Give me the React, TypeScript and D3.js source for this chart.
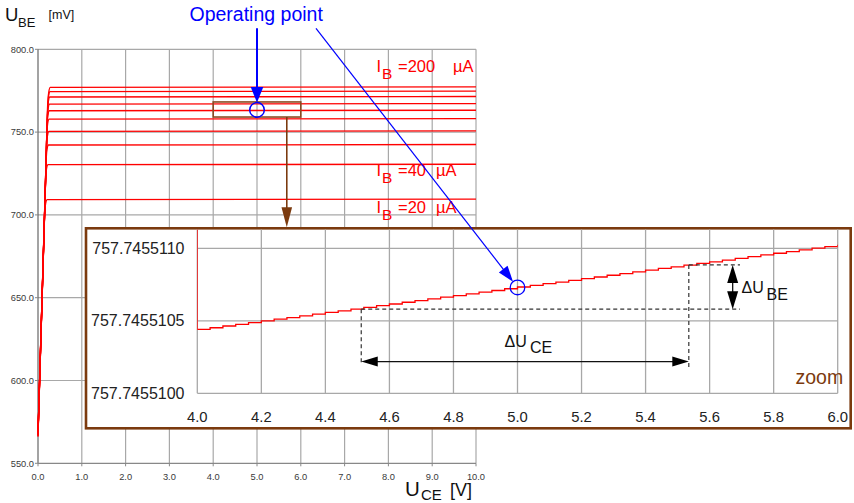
import React from "react";
import * as d3 from "d3";

// Output characteristics U_BE(U_CE) for base currents 20 µA ... 200 µA
const baseCurrentsUA = [20, 40, 60, 80, 100, 120, 140, 160, 180, 200];

// [U_CE in V, U_BE in mV] for each base current, same order as baseCurrentsUA
const outputCurves: [number, number][][] = [
  [[0, 566], [0.12, 673], [0.15, 699], [0.175, 707], [0.21, 709.2], [10, 709.5]],
  [[0, 566.5], [0.14, 691], [0.17, 718], [0.195, 728], [0.23, 730.3], [10, 730.6]],
  [[0, 567], [0.15, 700], [0.18, 729], [0.205, 739.5], [0.24, 742.2], [10, 742.5]],
  [[0, 567], [0.16, 708], [0.19, 737], [0.215, 747.5], [0.25, 750.4], [10, 750.7]],
  [[0, 567.5], [0.165, 714], [0.195, 744], [0.22, 755], [0.255, 757.8], [10, 758.1]],
  [[0, 567.5], [0.17, 719], [0.2, 749], [0.225, 760], [0.26, 762.9], [10, 763.2]],
  [[0, 568], [0.175, 722], [0.205, 753], [0.23, 764], [0.265, 766.9], [10, 767.2]],
  [[0, 568], [0.18, 727], [0.21, 757], [0.235, 768.3], [0.27, 771.2], [10, 771.5]],
  [[0, 568], [0.18, 729], [0.215, 760], [0.24, 771.6], [0.275, 774.5], [10, 774.8]],
  [[0, 568], [0.185, 732], [0.215, 763], [0.245, 774], [0.28, 777], [10, 777.3]],
];

const mainXTicks = [0, 1, 2, 3, 4, 5, 6, 7, 8, 9, 10];
const mainYTicks = [550, 600, 650, 700, 750, 800];

// Operating point and the window that is magnified
const operatingPoint = { uce: 5.0, ube: 763.4 };
const zoomWindow = { uce: [4.0, 6.0], ube: [759.1, 768.2] };

// Magnified curve: quantised U_BE steps between 4.0 V and 6.0 V
const zoomUce = [
  4.0, 4.04, 4.08, 4.12, 4.16, 4.2, 4.24, 4.28, 4.32, 4.36,
  4.4, 4.44, 4.48, 4.52, 4.56, 4.6, 4.64, 4.68, 4.72, 4.76,
  4.8, 4.84, 4.88, 4.92, 4.96, 5.0, 5.04, 5.08, 5.12, 5.16,
  5.2, 5.24, 5.28, 5.32, 5.36, 5.4, 5.44, 5.48, 5.52, 5.56,
  5.6, 5.64, 5.68, 5.72, 5.76, 5.8, 5.84, 5.88, 5.92, 5.96, 6.0,
];
const zoomUbe = [
  757.745510441, 757.745510452, 757.745510464, 757.745510476, 757.745510487,
  757.745510499, 757.745510511, 757.745510522, 757.745510534, 757.745510546,
  757.745510558, 757.745510569, 757.745510581, 757.745510593, 757.745510604,
  757.745510616, 757.745510628, 757.745510639, 757.745510651, 757.745510663,
  757.745510674, 757.745510686, 757.745510698, 757.745510709, 757.745510721,
  757.745510733, 757.745510744, 757.745510756, 757.745510767, 757.745510779,
  757.745510791, 757.745510802, 757.745510814, 757.745510826, 757.745510837,
  757.745510849, 757.745510861, 757.745510872, 757.745510884, 757.745510896,
  757.745510907, 757.745510919, 757.745510931, 757.745510942, 757.745510954,
  757.745510966, 757.745510977, 757.745510989, 757.745511001, 757.745511012,
  757.745511024,
];
// the trace enters the magnified window from above at 4.0 V
const zoomEntryUbe = 757.7455114;

const zoomXTicks = [4.0, 4.2, 4.4, 4.6, 4.8, 5.0, 5.2, 5.4, 5.6, 5.8, 6.0];
const zoomYTicks = [757.74551, 757.7455105, 757.745511];
const zoomOperatingPoint = { uce: 5.0, ube: 757.74551073 };

// Construction for the differential quantities
const deltaUce = [4.512, 5.535];
const deltaUbe = [757.74551058, 757.745510885];
const deltaUceArrowUbe = 757.745510219;
const deltaUbeArrowUce = 5.672;
const dashRightUce = 5.695;
const dashLeftBottomUbe = 757.745510209;
const dashRightBottomUbe = 757.745510168;

const FONT = "'Liberation Sans', Arial, Helvetica, sans-serif";
const RED = "#ff0000";
const BLUE = "#0000ff";
const BROWN = "#7b3a0e";
const GRID = "#a8a8a8";

function arrowHead(tx: number, ty: number, fx: number, fy: number, len: number, half: number) {
  const dx = tx - fx;
  const dy = ty - fy;
  const d = Math.hypot(dx, dy);
  const ux = dx / d;
  const uy = dy / d;
  const bx = tx - ux * len;
  const by = ty - uy * len;
  return `M${tx},${ty}L${bx - uy * half},${by + ux * half}L${bx + uy * half},${by - ux * half}Z`;
}

export default function App() {
  const x = d3.scaleLinear().domain([0, 10]).range([38, 476]);
  const y = d3.scaleLinear().domain([550, 800]).range([463.3, 49.3]);

  const zx = d3.scaleLinear().domain([4, 6]).range([197.3, 837.7]);
  const zy = d3.scaleLinear().domain([757.74551, 757.745511]).range([393.3, 248.3]);

  const curveLine = d3
    .line<[number, number]>()
    .x((d) => x(d[0]))
    .y((d) => y(d[1]))
    .curve(d3.curveMonotoneX);

  const zoomPoints: [number, number][] = [[4.0, zoomEntryUbe], ...zoomUce.map((u, i) => [u, zoomUbe[i]] as [number, number])];
  const stairLine = d3
    .line<[number, number]>()
    .x((d) => zx(d[0]))
    .y((d) => zy(d[1]))
    .curve(d3.curveStepAfter);

  const fmt1 = d3.format(".1f");

  // inset frame
  const inset = { x0: 86, y0: 228.3, x1: 850.7, y1: 428.3 };

  // operating point marker in the main chart
  const opX = x(operatingPoint.uce);
  const opY = y(operatingPoint.ube);
  const opR = 7.3;

  // magnified operating point
  const zopX = zx(zoomOperatingPoint.uce);
  const zopY = zy(zoomOperatingPoint.ube);

  // pointer from label to magnified operating point
  const pStart = { x: 316, y: 28.3 };
  const pdx = zopX - pStart.x;
  const pdy = zopY - pStart.y;
  const pd = Math.hypot(pdx, pdy);
  const pTip = { x: zopX - (pdx / pd) * opR, y: zopY - (pdy / pd) * opR };

  // brown arrow from zoom window down to the inset
  const bx = x(5.68);
  const bTop = y(zoomWindow.ube[0]);

  const dLx = zx(deltaUce[0]);
  const dRx = zx(deltaUce[1]);
  const dTopY = zy(deltaUbe[1]);
  const dBotY = zy(deltaUbe[0]);
  const arrowY = zy(deltaUceArrowUbe);
  const arrowX = zx(deltaUbeArrowUce);

  return (
    <svg
      width={854}
      height={503}
      style={{ position: "absolute", left: 0, top: 0, background: "#fff" }}
      fontFamily={FONT}
    >
      <defs>
        <clipPath id="zoomClip">
          <rect x={zx(4)} y={inset.y0 + 1.2} width={zx(6) - zx(4)} height={zy(757.74551) - inset.y0 - 1.2} />
        </clipPath>
      </defs>

      {/* main grid */}
      <g>
        {mainXTicks.slice(1).map((t) => (
          <line key={"gx" + t} x1={x(t)} x2={x(t)} y1={y(800)} y2={y(550)} stroke={GRID} strokeWidth={1.2} />
        ))}
        {mainYTicks.slice(1).map((t) => (
          <line key={"gy" + t} x1={x(0)} x2={x(10)} y1={y(t)} y2={y(t)} stroke={GRID} strokeWidth={1.2} />
        ))}
        <line x1={x(0)} x2={x(0)} y1={y(800)} y2={y(550)} stroke="#666" strokeWidth={1.2} />
        <line x1={x(0)} x2={x(10)} y1={y(550)} y2={y(550)} stroke="#888" strokeWidth={1.2} />
        {mainYTicks.map((t) => (
          <g key={"ty" + t}>
            <line x1={x(0) - 3} x2={x(0)} y1={y(t)} y2={y(t)} stroke="#888" />
            <text x={34} y={y(t) + 3.3} textAnchor="end" fontSize={9.3} fill="#3a3a3a">
              {fmt1(t)}
            </text>
          </g>
        ))}
        {mainXTicks.map((t) => (
          <g key={"tx" + t}>
            <line x1={x(t)} x2={x(t)} y1={y(550)} y2={y(550) + 3} stroke="#888" />
            <text x={x(t)} y={480} textAnchor="middle" fontSize={9.3} fill="#3a3a3a">
              {fmt1(t)}
            </text>
          </g>
        ))}
      </g>

      {/* characteristic curves */}
      <g fill="none" stroke={RED} strokeWidth={1.3}>
        {outputCurves.map((c, i) => (
          <path key={"c" + baseCurrentsUA[i]} d={curveLine(c) || ""} />
        ))}
      </g>

      {/* zoom window and operating point */}
      <rect
        x={x(zoomWindow.uce[0])}
        y={y(zoomWindow.ube[1])}
        width={x(zoomWindow.uce[1]) - x(zoomWindow.uce[0])}
        height={y(zoomWindow.ube[0]) - y(zoomWindow.ube[1])}
        fill="none"
        stroke="#8a4a22"
        strokeWidth={1.6}
      />
      <circle cx={opX} cy={opY} r={opR} fill="none" stroke={BLUE} strokeWidth={1.5} />

      {/* base current labels */}
      <g fill={RED} fontSize={16.5}>
        <text x={376.5} y={71.5}>I</text>
        <text x={382} y={78.5} fontSize={15.5}>B</text>
        <text x={398} y={71.5}>=200</text>
        <text x={453} y={71.5}>µA</text>

        <text x={376.5} y={176}>I</text>
        <text x={382} y={183} fontSize={15.5}>B</text>
        <text x={398} y={176}>=40</text>
        <text x={436} y={176}>µA</text>

        <text x={376.5} y={213}>I</text>
        <text x={382} y={220} fontSize={15.5}>B</text>
        <text x={398} y={213}>=20</text>
        <text x={436} y={213}>µA</text>
      </g>

      {/* axis titles */}
      <text x={5} y={20.7} fontSize={18.5} fill="#111">U</text>
      <text x={18} y={26.7} fontSize={13} fill="#111">BE</text>
      <text x={48.5} y={19} fontSize={12.5} fill="#111">[mV]</text>

      <text x={405} y={496} fontSize={20.5} fill="#111">U</text>
      <text x={421} y={500.3} fontSize={15} fill="#111">CE</text>
      <text x={450} y={495.5} fontSize={18} fill="#111">[V]</text>

      {/* brown arrow down to the magnified view */}
      <line x1={bx} x2={bx} y1={bTop} y2={212} stroke={BROWN} strokeWidth={1.6} />
      <path d={arrowHead(bx, inset.y0 - 1, bx, bTop, 20, 5.3)} fill={BROWN} />

      {/* magnified view */}
      <rect
        x={inset.x0}
        y={inset.y0}
        width={inset.x1 - inset.x0}
        height={inset.y1 - inset.y0}
        fill="#fff"
        stroke={BROWN}
        strokeWidth={2.6}
      />
      <g>
        {zoomXTicks.map((t) => (
          <line key={"zgx" + t} x1={zx(t)} x2={zx(t)} y1={inset.y0 + 1.2} y2={zy(757.74551)} stroke={GRID} strokeWidth={1.3} />
        ))}
        {zoomYTicks.map((t) => (
          <line key={"zgy" + t} x1={zx(4)} x2={zx(6)} y1={zy(t)} y2={zy(t)} stroke={GRID} strokeWidth={1.3} />
        ))}
        {zoomYTicks.map((t) => (
          <text key={"zty" + t} x={184.5} y={zy(t) + 5.5} textAnchor="end" fontSize={16} fill="#222">
            {t.toFixed(7)}
          </text>
        ))}
        {zoomXTicks.map((t) => (
          <text key={"ztx" + t} x={zx(t)} y={421.5} textAnchor="middle" fontSize={14.8} fill="#222">
            {t.toFixed(1)}
          </text>
        ))}
      </g>

      <g clipPath="url(#zoomClip)">
        <path d={stairLine(zoomPoints) || ""} fill="none" stroke={RED} strokeWidth={1.3} />
      </g>

      {/* difference construction */}
      <g stroke="#333" strokeWidth={1.2} strokeDasharray="4,3" fill="none">
        <line x1={dLx} x2={zx(dashRightUce)} y1={dBotY} y2={dBotY} />
        <line x1={dRx} x2={zx(dashRightUce)} y1={dTopY} y2={dTopY} />
        <line x1={dLx} x2={dLx} y1={dBotY} y2={zy(dashLeftBottomUbe)} />
        <line x1={dRx} x2={dRx} y1={dTopY} y2={zy(dashRightBottomUbe)} />
      </g>
      <g stroke="#111" strokeWidth={1.3}>
        <line x1={dLx + 10} x2={dRx - 10} y1={arrowY} y2={arrowY} />
        <line x1={arrowX} x2={arrowX} y1={dTopY + 10} y2={dBotY - 10} />
      </g>
      <g fill="#000">
        <path d={arrowHead(dLx, arrowY, dRx, arrowY, 16.5, 5)} />
        <path d={arrowHead(dRx, arrowY, dLx, arrowY, 16.5, 5)} />
        <path d={arrowHead(arrowX, dTopY, arrowX, dBotY, 18, 5.5)} />
        <path d={arrowHead(arrowX, dBotY, arrowX, dTopY, 18, 5.5)} />
      </g>
      <g fill="#111">
        <text x={504.5} y={346.7} fontSize={16}>ΔU</text>
        <text x={530} y={353.3} fontSize={16}>CE</text>
        <text x={741.5} y={293.3} fontSize={16}>ΔU</text>
        <text x={766.5} y={300} fontSize={16}>BE</text>
      </g>

      <text x={795.5} y={384} fontSize={19.5} fill={BROWN}>zoom</text>

      <circle cx={zopX} cy={zopY} r={opR} fill="none" stroke={BLUE} strokeWidth={1.3} />

      {/* operating point annotation */}
      <text x={189.5} y={20.5} fontSize={19.5} fill={BLUE}>Operating point</text>
      <line x1={opX} x2={opX} y1={28.3} y2={opY - opR - 12} stroke={BLUE} strokeWidth={2} />
      <path d={arrowHead(opX, opY - opR, opX, 28.3, 15.5, 6.3)} fill={BLUE} />
      <line x1={pStart.x} y1={pStart.y} x2={pTip.x - (pdx / pd) * 10} y2={pTip.y - (pdy / pd) * 10} stroke={BLUE} strokeWidth={1.2} />
      <path d={arrowHead(pTip.x, pTip.y, pStart.x, pStart.y, 16, 5.5)} fill={BLUE} />
    </svg>
  );
}
